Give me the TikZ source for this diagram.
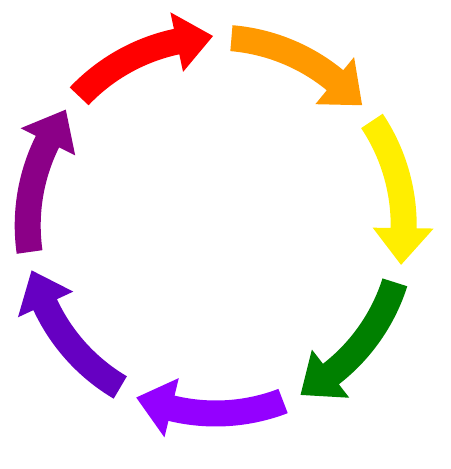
\documentclass[tikz,border=0pt]{standalone}
\definecolor{ringred}{HTML}{FF0000}
\definecolor{ringorange}{HTML}{FF9900}
\definecolor{ringyellow}{HTML}{FFEE00}
\definecolor{ringgreen}{HTML}{008000}
\definecolor{ringviolet}{HTML}{9400FF}
\definecolor{ringindigo}{HTML}{6600C2}
\definecolor{ringplum}{HTML}{8B0087}

\begin{document}
\begin{tikzpicture}[seg/.style={fill=#1,draw=none}]
 \useasboundingbox (-4.314,-4.87) rectangle (4.686,4.51);
 % seven curved arrows, clockwise, tail angle / colour
 \foreach \A/\C in {136.6/ringred,85.2/ringorange,33.8/ringyellow,
 -17.6/ringgreen,-69.0/ringviolet,-120.5/ringindigo,-171.9/ringplum}
 {\pgfmathsetmacro{\B}{\A-34.6}
 \pgfmathsetmacro{\T}{\A-45.8}
 \fill[seg=\C] (\A:4.02) arc[start angle=\A,end angle=\B,radius=4.02]
 -- (\B:4.36) -- (\T:3.79) -- (\B:3.14) -- (\B:3.5)
 arc[start angle=\B,end angle=\A,radius=3.5] -- cycle;}
\end{tikzpicture}
\end{document}
